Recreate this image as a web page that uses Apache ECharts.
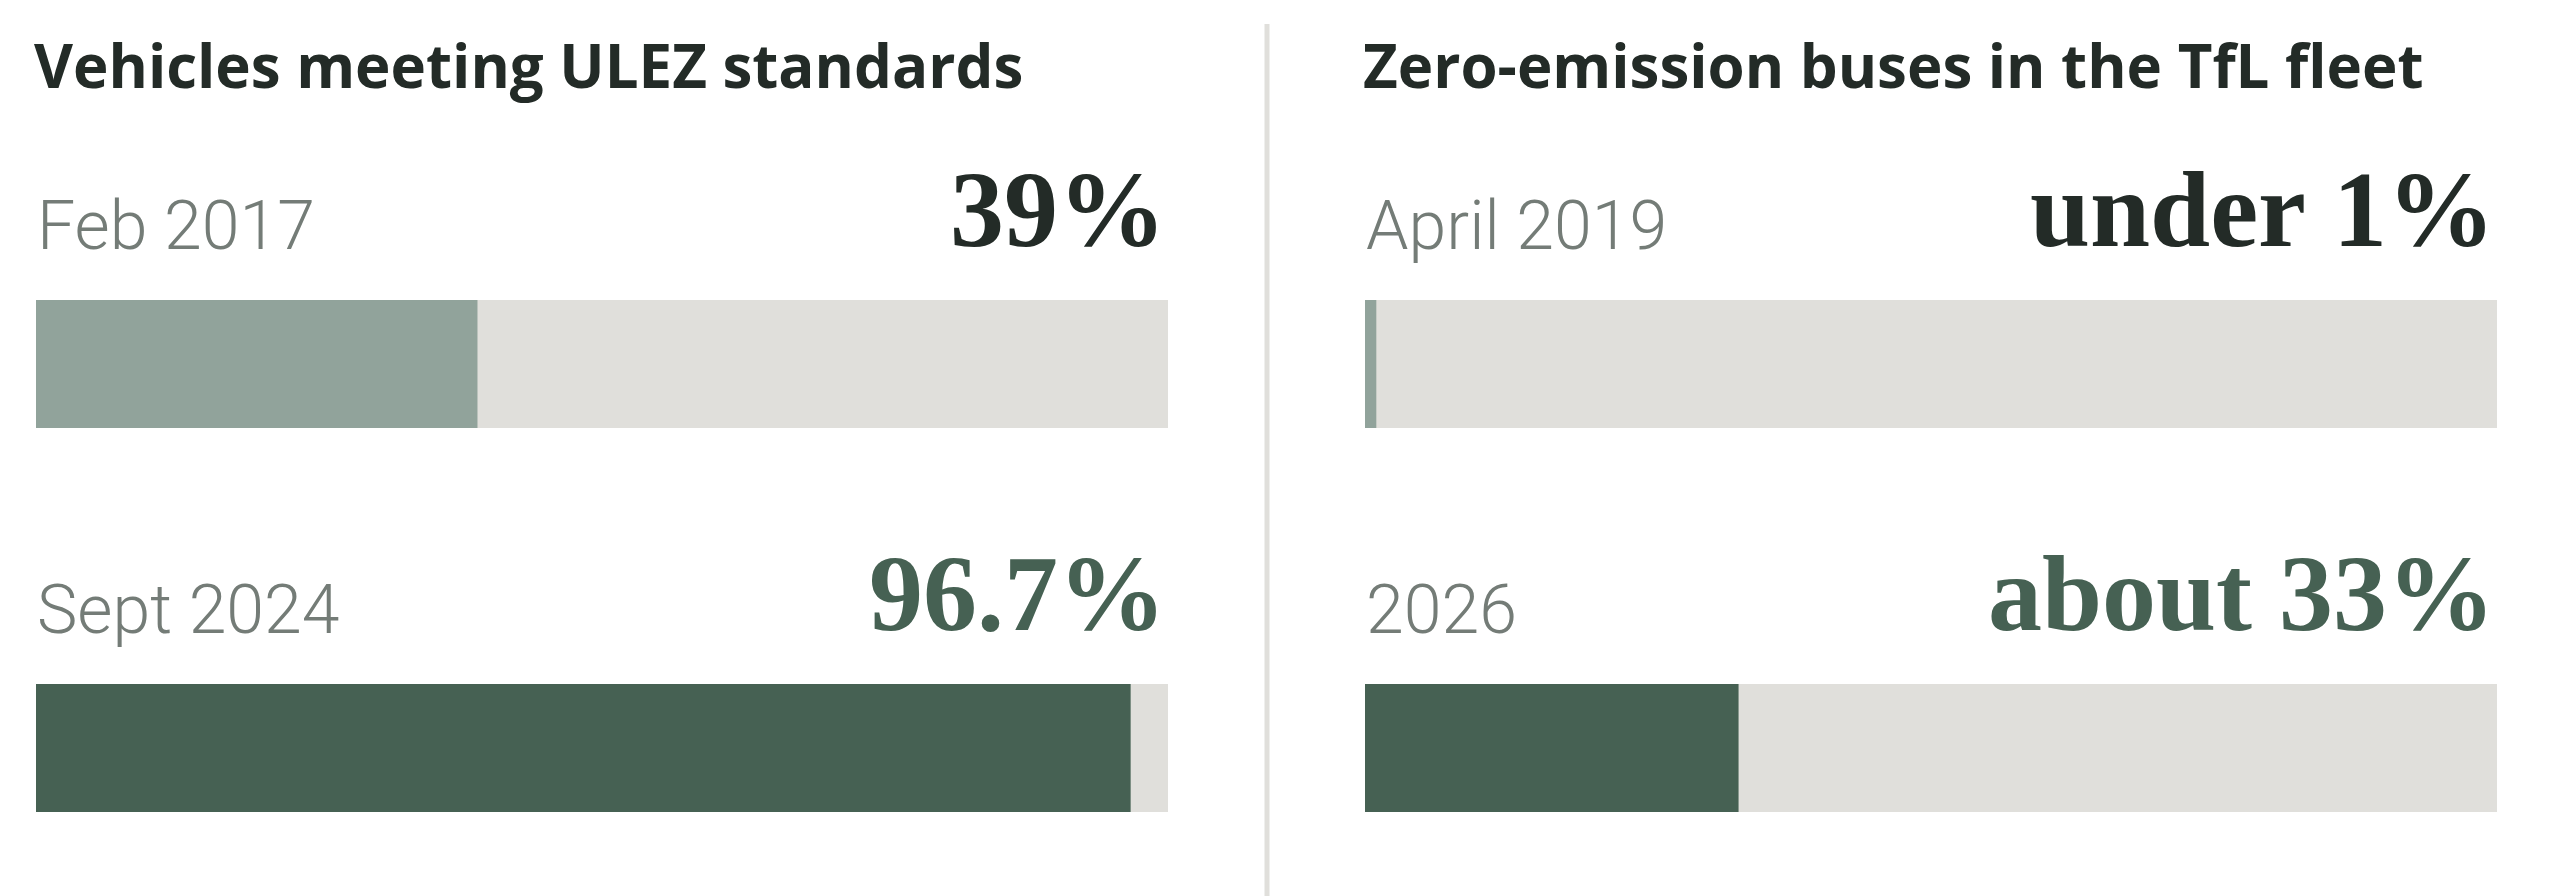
<!DOCTYPE html>
<html lang="en">
<head>
    <meta charset="UTF-8">
    <title>ULEZ and zero-emission buses</title>
    <script src="https://cdn.jsdelivr.net/npm/echarts@6/dist/echarts.min.js"></script>
    <style>
        html, body { margin: 0; padding: 0; background: #fff; }
    </style>
</head>
<body>
<div style="width:2560px;height:896px" id="main"></div>

<script>
    var panelTitles = ['Vehicles meeting ULEZ standards', 'Zero-emission buses in the TfL fleet'];

    // one entry per bar: left panel top, left bottom, right top, right bottom
    var dates = ['Feb 2017', 'Sept 2024', 'April 2019', '2026'];
    var values = [39, 96.7, 1, 33];
    var valueLabels = ['39%', '96.7%', 'under 1%', 'about 33%'];
    var rowType = ['then', 'now', 'then', 'now'];

    var fillColors = { then: '#91a39b', now: '#466153' };
    var valueColors = { then: '#232b27', now: '#466153' };
    var trackColor = '#e0dfdb';

    var chartDom = document.getElementById('main');
    var myChart = echarts.init(chartDom);
    var option;

    var gridLefts = [36, 36, 1365, 1365];
    var gridTops = [300, 684, 300, 684];

    var grids = [], xAxes = [], yAxes = [], series = [];
    for (var i = 0; i < values.length; i++) {
        grids.push({ left: gridLefts[i], top: gridTops[i], width: 1132, height: 128 });
        xAxes.push({ type: 'value', gridIndex: i, min: 0, max: 100, show: false });
        yAxes.push({ type: 'category', gridIndex: i, data: [dates[i]], show: false });

        (function (i) {
            // grey track, carries the big value label
            series.push({
                type: 'bar',
                xAxisIndex: i,
                yAxisIndex: i,
                data: [100],
                barWidth: 128,
                silent: true,
                itemStyle: { color: trackColor },
                label: {
                    show: true,
                    position: ['100%', -82],
                    align: 'right',
                    verticalAlign: 'middle',
                    offset: [-2, 0],
                    formatter: function () { return valueLabels[i]; },
                    fontFamily: 'Liberation Serif',
                    fontWeight: 'bold',
                    fontSize: 108,
                    lineHeight: 108,
                    color: valueColors[rowType[i]]
                }
            });
            // filled share, carries the date label
            series.push({
                type: 'bar',
                xAxisIndex: i,
                yAxisIndex: i,
                data: [values[i]],
                barWidth: 128,
                barGap: '-100%',
                silent: true,
                itemStyle: { color: fillColors[rowType[i]] },
                label: {
                    show: true,
                    position: [0, -68],
                    align: 'left',
                    verticalAlign: 'middle',
                    offset: [1, 0],
                    formatter: function () { return dates[i]; },
                    fontFamily: 'Roboto',
                    fontWeight: 300,
                    fontSize: 68,
                    lineHeight: 68,
                    color: '#747c77'
                }
            });
        })(i);
    }

    var titleStyle = { fontFamily: 'Open Sans', fontWeight: 'bold', fontSize: 60, lineHeight: 60, color: '#232b27' };

    option = {
        animation: false,
        backgroundColor: '#ffffff',
        title: [{
            text: panelTitles[0],
            left: 34,
            top: 41,
            padding: 0,
            textStyle: titleStyle
        }, {
            text: panelTitles[1],
            left: 1363,
            top: 41,
            padding: 0,
            textStyle: titleStyle
        }],
        grid: grids,
        xAxis: xAxes,
        yAxis: yAxes,
        series: series,
        graphic: {
            elements: [{
                type: 'line',
                shape: { x1: 1267, y1: 24, x2: 1267, y2: 896 },
                style: { stroke: '#e0dfdb', lineWidth: 5 },
                silent: true
            }]
        }
    };

    option && myChart.setOption(option);
</script>
</body>
</html>
